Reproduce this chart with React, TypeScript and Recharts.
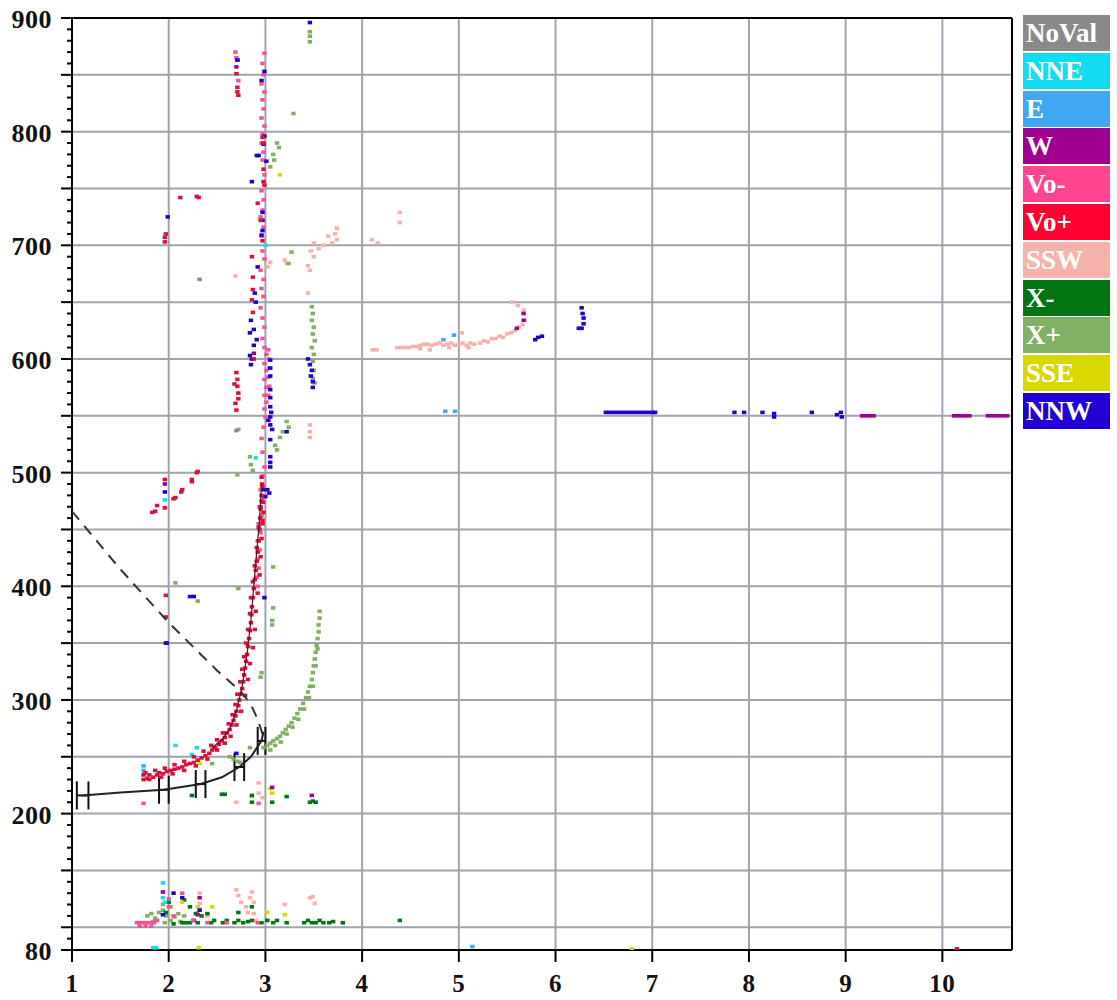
import React from "react";
import { ScatterChart, Scatter, XAxis, YAxis, CartesianGrid, ErrorBar, ReferenceLine } from "recharts";

type Pt = [number, number];

const X_TICKS = [1, 2, 3, 4, 5, 6, 7, 8, 9, 10];
const X_GRID = [2, 3, 4, 5, 6, 7, 8, 9, 10];
const Y_LABELS = [80, 200, 300, 400, 500, 600, 700, 800, 900];
const Y_GRID = [100, 150, 200, 250, 300, 350, 400, 450, 500, 550, 600, 650, 700, 750, 800, 850];
const Y_MINOR = Array.from({ length: 83 }, (_, i) => 80 + i * 10);

const LEGEND_NAMES = ["NoVal", "NNE", "E", "W", "Vo-", "Vo+", "SSW", "X-", "X+", "SSE", "NNW"];
const LEGEND_COLORS = ["#8a8a8a", "#12dcf2", "#40a8f2", "#a0008f", "#ff4590", "#ff0030", "#f4b2aa", "#007512", "#80b063", "#d8d800", "#2000d4"];

const noVal: Pt[] = [[2.32, 670], [2.7, 537]];

const nne: Pt[] = [
  [1.84, 82], [1.87, 82], [3.0, 700], [2.9, 513], [1.96, 476], [2.07, 260], [2.29, 258], [2.24, 252],
  [1.94, 139], [1.94, 126], [1.96, 122],
];

const eSeries: Pt[] = [
  [4.86, 554], [4.96, 554], [4.84, 617], [4.95, 621], [5.14, 83], [1.74, 238], [1.74, 242], [1.75, 236],
];

const wSeries: Pt[] = [
  [2.7, 857], [5.67, 640], [5.67, 634], [5.6, 627],
  [9.17, 550], [9.21, 550], [9.25, 550], [9.29, 550],
  [10.12, 550], [10.16, 550], [10.2, 550], [10.24, 550], [10.28, 550],
  [10.47, 550], [10.51, 550], [10.55, 550], [10.59, 550], [10.63, 550], [10.67, 550],
  [1.94, 131], [2.32, 126], [3.07, 223], [3.48, 216], [2.3, 111], [2.88, 605], [1.96, 490], [2.71, 863],
];

const voMinus: Pt[] = [
  [2.99, 869], [2.97, 860], [2.98, 850], [2.96, 842], [2.99, 835], [2.97, 828], [2.98, 820], [2.96, 812],
  [2.99, 805], [2.97, 798], [2.96, 790], [2.98, 782], [2.97, 775], [2.99, 762], [2.96, 748], [2.98, 740],
  [2.97, 731], [2.95, 725], [2.98, 716], [2.96, 708], [2.97, 695], [2.99, 688], [2.95, 678], [2.98, 670],
  [2.96, 662], [2.98, 655], [2.95, 645], [2.97, 636], [2.99, 628], [2.97, 618], [2.99, 610], [3.01, 604],
  [2.99, 596], [3.01, 590], [2.99, 582], [3.01, 575], [2.99, 568], [3.01, 562], [2.99, 556], [3.0, 549],
  [2.98, 540], [2.96, 530], [2.97, 518], [2.99, 505], [2.97, 497],
  [3.03, 608], [3.04, 600], [3.04, 592], [3.03, 584], [3.04, 576], [3.03, 568],
  [2.95, 485], [2.97, 478], [2.94, 470], [2.96, 462], [2.93, 455], [2.95, 447], [2.92, 440], [2.94, 432],
  [2.92, 424], [2.93, 416], [2.91, 408], [2.92, 400],
  [2.69, 870], [2.7, 865], [2.72, 845],
  [1.74, 209], [1.67, 104], [1.7, 104], [1.73, 104], [1.76, 104], [1.79, 104], [1.82, 104], [1.85, 104],
  [1.88, 106], [1.7, 101], [1.76, 101], [1.82, 101], [2.14, 130], [2.0, 125], [2.05, 110], [2.25, 106],
  [2.4, 104], [2.6, 104], [2.92, 104], [2.93, 209], [2.0, 118],
];

const voPlus: Pt[] = [
  [1.74, 230], [1.74, 234], [1.78, 231], [1.8, 234], [1.84, 232], [1.88, 234], [1.9, 236], [1.94, 235],
  [1.98, 237], [2.02, 238], [2.06, 239], [2.1, 240], [2.14, 241], [2.18, 243], [2.22, 244], [2.26, 245],
  [2.3, 247], [2.34, 249], [2.38, 251], [2.42, 253], [2.45, 256], [2.48, 258], [2.52, 261], [2.55, 264],
  [2.58, 267], [2.6, 271], [2.63, 274], [2.65, 278], [2.67, 282], [2.69, 286], [2.7, 290], [2.72, 295],
  [2.73, 300], [2.74, 305], [2.76, 310], [2.77, 316], [2.78, 322], [2.79, 328], [2.8, 334], [2.81, 340],
  [2.82, 347], [2.83, 354], [2.84, 361], [2.85, 368], [2.855, 375], [2.86, 382], [2.87, 390], [2.88, 398],
  [2.89, 406], [2.9, 414], [2.91, 422], [2.92, 430], [2.93, 440], [2.94, 450], [2.945, 460], [2.95, 470],
  [2.96, 480], [2.965, 490],
  [1.76, 236], [1.86, 238], [1.96, 240], [2.06, 243], [2.16, 246], [2.26, 250], [2.36, 255], [2.44, 260],
  [2.5, 265], [2.56, 271], [2.62, 279], [2.66, 287], [2.69, 296], [2.71, 305], [2.74, 316], [2.76, 327],
  [2.78, 338], [2.8, 350], [2.82, 362], [2.84, 376], [2.85, 390], [2.87, 404], [2.89, 418], [2.91, 434],
  [2.93, 452], [2.95, 468],
  [1.8, 230], [1.92, 232], [2.04, 235], [2.16, 238], [2.28, 242], [2.4, 248], [2.5, 256], [2.58, 262],
  [2.64, 268], [2.7, 278], [2.75, 290], [2.79, 304], [2.82, 318], [2.84, 332], [2.87, 346], [2.89, 362],
  [2.9, 378], [2.92, 394], [2.94, 410], [2.95, 426], [2.96, 442], [2.97, 458], [2.975, 474],
  [1.83, 465], [1.86, 466], [1.88, 471], [1.96, 469], [1.96, 494], [2.05, 477], [2.07, 478], [2.13, 483],
  [2.14, 485], [2.24, 492], [2.24, 494], [2.29, 500], [2.3, 501], [1.97, 392], [1.97, 373],
  [1.96, 703], [1.96, 707], [1.97, 710], [2.12, 742], [2.29, 743], [2.31, 742],
  [2.7, 851], [2.71, 839], [2.71, 835], [2.72, 832],
  [2.7, 588], [2.71, 582], [2.71, 576], [2.72, 570], [2.72, 565], [2.68, 578], [2.69, 561], [2.7, 555],
  [2.97, 795], [2.98, 790], [2.98, 767], [2.99, 753], [2.98, 756], [2.92, 737], [2.95, 722], [2.97, 704],
  [2.86, 690], [2.87, 672], [2.87, 661], [2.86, 652], [2.87, 641], [2.88, 600],
  [2.96, 496], [2.97, 488], [2.96, 475], [2.98, 465], [2.97, 455], [10.15, 81],
];

const ssw: Pt[] = [
  [4.11, 608], [4.15, 608], [4.36, 610], [4.4, 610], [4.44, 610], [4.48, 610], [4.52, 611], [4.56, 611],
  [4.6, 612], [4.64, 613], [4.68, 613], [4.72, 612], [4.76, 613], [4.8, 614], [4.84, 612], [4.88, 613],
  [4.92, 614], [4.96, 612], [5.0, 613], [5.04, 614], [5.08, 612], [5.12, 614], [5.16, 613], [5.22, 614],
  [5.26, 616], [5.3, 615], [5.34, 618], [5.38, 618], [5.42, 620], [5.46, 619], [5.5, 622], [5.54, 623],
  [5.58, 625], [5.62, 628], [5.66, 630], [5.68, 634], [5.67, 643], [5.61, 647], [5.55, 650], [5.03, 623],
  [4.6, 609], [4.7, 608], [4.9, 610], [5.1, 610],
  [3.74, 715], [3.72, 710], [3.69, 702], [3.74, 705], [3.65, 708], [3.6, 700], [3.55, 697], [3.5, 702],
  [3.47, 695], [3.5, 690], [3.44, 682], [3.46, 678], [3.22, 684], [3.2, 687], [3.02, 681], [3.05, 685],
  [3.44, 658], [4.1, 705], [4.16, 702], [4.39, 729], [4.39, 720], [2.69, 673], [3.46, 542], [3.46, 536],
  [3.46, 531],
  [2.7, 133], [2.72, 128], [2.75, 122], [2.8, 118], [2.86, 131], [2.84, 126], [2.88, 122], [2.82, 113],
  [3.2, 120], [3.46, 126], [3.51, 121], [3.49, 127], [2.32, 130], [2.32, 121], [2.32, 116], [2.3, 113],
  [2.4, 110], [2.9, 106], [2.88, 112],
  [2.93, 227], [2.93, 218], [2.7, 210], [2.86, 215], [2.97, 214],
];

const xMinus: Pt[] = [
  [2.0, 122], [2.16, 124], [2.22, 118], [2.28, 112], [2.14, 104], [2.18, 104], [2.22, 104], [2.26, 106],
  [2.3, 104], [2.44, 104], [2.47, 106], [2.56, 104], [2.6, 106], [2.68, 104], [2.72, 106], [2.77, 104],
  [2.82, 105], [2.86, 106], [2.96, 104], [3.02, 106], [3.08, 104], [3.12, 106], [3.22, 104], [3.4, 104],
  [3.44, 106], [3.48, 104], [3.52, 104], [3.56, 106], [3.6, 104], [3.66, 104], [3.7, 105], [3.8, 104],
  [4.39, 106], [2.86, 118], [2.72, 113], [2.4, 112], [2.34, 110], [1.97, 113], [2.05, 103],
  [2.24, 216], [2.55, 217], [2.58, 217], [2.86, 216], [2.86, 210], [3.07, 210], [3.22, 215], [3.46, 210],
  [3.49, 211], [3.52, 210],
];

const xPlus: Pt[] = [
  [2.98, 258], [3.02, 260], [3.05, 262], [3.08, 264], [3.12, 266], [3.15, 268], [3.18, 271], [3.21, 274],
  [3.24, 277], [3.27, 280], [3.3, 284], [3.33, 288], [3.36, 292], [3.39, 297], [3.42, 302], [3.44, 307],
  [3.46, 312], [3.48, 318], [3.49, 324], [3.5, 330], [3.51, 336], [3.52, 342], [3.53, 348], [3.54, 354],
  [3.55, 360], [3.55, 366], [3.56, 372], [3.56, 378], [3.05, 256], [3.1, 260], [3.16, 263], [3.22, 270],
  [3.28, 276], [3.34, 283], [3.4, 292], [3.45, 302], [3.49, 312], [3.52, 330], [3.54, 345],
  [3.48, 646], [3.49, 640], [3.48, 634], [3.5, 628], [3.49, 622], [3.51, 616], [3.48, 610], [3.5, 604],
  [3.49, 598], [3.5, 590], [3.49, 583], [3.51, 579],
  [3.46, 888], [3.46, 884], [3.46, 879], [3.29, 816], [3.12, 790], [3.14, 786], [3.08, 780], [3.09, 775],
  [3.05, 769], [3.27, 694], [3.24, 684],
  [3.22, 545], [3.24, 540], [3.18, 536], [3.15, 531], [3.1, 524], [3.12, 520], [2.84, 514], [2.85, 507],
  [2.87, 502], [2.72, 538], [2.71, 498], [2.07, 403], [2.3, 387], [2.72, 398], [3.08, 381], [3.07, 370],
  [3.07, 366], [3.08, 417], [2.95, 320], [2.96, 324],
  [2.63, 250], [2.67, 248], [2.71, 246], [2.74, 245], [2.45, 244], [2.84, 258],
  [1.78, 110], [1.82, 112], [1.86, 108], [1.9, 113], [1.94, 115], [1.98, 110], [2.02, 106], [2.06, 109],
  [2.1, 112], [2.02, 118], [2.12, 105], [1.84, 105], [1.96, 104], [2.16, 110], [1.94, 120],
];

const sse: Pt[] = [
  [6.79, 81], [2.31, 82], [3.07, 218], [3.05, 222], [3.15, 762], [2.45, 118], [2.3, 118], [2.14, 122],
  [3.2, 111], [3.02, 113], [2.32, 244],
];

const nnw: Pt[] = [
  [3.46, 896], [2.71, 863], [2.99, 853], [2.96, 845], [2.99, 796], [2.98, 789], [3.01, 774], [2.93, 779],
  [2.91, 779], [2.86, 756], [2.97, 729], [2.97, 722], [2.97, 713], [2.96, 709], [2.92, 681], [2.89, 658],
  [2.9, 650], [2.85, 634], [2.88, 626], [2.84, 623], [2.91, 617], [2.88, 612], [2.86, 600], [2.84, 603],
  [2.85, 595], [3.05, 599], [3.05, 592], [3.05, 585], [3.05, 573], [3.05, 566], [3.05, 558], [3.06, 553],
  [3.05, 549], [3.03, 546], [3.05, 542], [3.07, 538], [3.22, 536], [3.05, 529], [3.05, 514], [3.05, 509],
  [3.05, 505], [2.98, 485], [3.02, 485], [3.04, 482], [3.0, 479], [1.96, 483], [1.98, 350], [1.97, 350],
  [2.22, 391], [2.26, 391], [2.99, 390], [3.44, 600], [3.46, 595], [3.48, 590], [3.47, 585], [3.49, 580],
  [3.49, 575], [1.99, 725], [2.7, 253],
  [5.79, 617], [5.82, 619], [5.86, 620], [6.27, 645], [6.28, 640], [6.29, 636], [6.29, 631], [6.27, 627],
  [6.24, 627],
  [6.52, 553], [6.56, 553], [6.6, 553], [6.64, 553], [6.68, 553], [6.72, 553], [6.76, 553], [6.8, 553],
  [6.84, 553], [6.88, 553], [6.92, 553], [6.96, 553], [7.0, 553], [7.03, 553],
  [7.85, 553], [7.95, 553], [8.14, 553], [8.26, 552], [8.26, 549], [8.65, 553], [8.91, 551], [8.95, 553],
  [8.96, 549],
  [2.05, 130], [2.14, 126], [1.94, 111], [2.32, 115],
];

const dashedLine: Pt[] = [[1.0, 466], [1.5, 415], [2.0, 368], [2.5, 326], [2.75, 307], [2.85, 296], [2.92, 283], [2.97, 270]];
const solidLine: Pt[] = [[1.11, 216], [1.5, 218.5], [1.95, 221], [2.33, 226], [2.55, 232], [2.73, 241], [2.85, 250], [2.96, 264], [2.98, 272]];
const thinLine: Pt[] = [[2.45, 258], [2.55, 265], [2.63, 274], [2.7, 290], [2.76, 312], [2.81, 340], [2.85, 370], [2.88, 400], [2.91, 430], [2.94, 460], [2.96, 490]];
const errX = [1.11, 1.95, 2.33, 2.73, 2.96];
const errY = [216, 221, 226, 241, 264];
const errW = [0.06, 0.05, 0.05, 0.05, 0.04];

const toData = (pts: Pt[]) => pts.map(([x, y]) => ({ x, y }));
const errData = errX.map((x, i) => ({ x, y: errY[i], e: errW[i] }));

const FONT = "'Liberation Serif', 'Times New Roman', serif";

const dot = (color: string) => (p: any) => (
  <rect x={p.cx - 2.2} y={p.cy - 1.8} width={4.4} height={3.6} fill={color} />
);
const none = () => <g />;

const layers: { data: Pt[]; color: string }[] = [
  { data: ssw, color: "#f4b2aa" },
  { data: xPlus, color: "#80b063" },
  { data: xMinus, color: "#007512" },
  { data: sse, color: "#d8d800" },
  { data: eSeries, color: "#40a8f2" },
  { data: nne, color: "#12dcf2" },
  { data: noVal, color: "#8a8a8a" },
  { data: wSeries, color: "#a0008f" },
  { data: voMinus, color: "#f5509a" },
  { data: nnw, color: "#2200cc" },
  { data: voPlus, color: "#d8103a" },
];

const YTick = (p: any) => {
  const v = p.payload.value;
  const major = v % 50 === 0 || v === 80;
  const labeled = Y_LABELS.includes(v);
  return (
    <g>
      <line x1={p.x - (major ? 11 : 5)} x2={p.x} y1={p.y} y2={p.y} stroke="#000" strokeWidth={2} />
      {labeled && (
        <text x={p.x - 20} y={p.y + 10} textAnchor="end" fontFamily={FONT} fontWeight="bold" fontSize={26} letterSpacing={0.5} fill="#111">
          {v}
        </text>
      )}
    </g>
  );
};

const XTick = (p: any) => (
  <g>
    <line x1={p.x} x2={p.x} y1={p.y} y2={p.y + 12} stroke="#000" strokeWidth={2} />
    <text x={p.x} y={p.y + 42} textAnchor="middle" fontFamily={FONT} fontWeight="bold" fontSize={25} letterSpacing={0.5} fill="#111">
      {p.payload.value}
    </text>
  </g>
);

export default function App() {
  return (
    <div style={{ position: "absolute", left: 0, top: 0, width: 1117, height: 1000, background: "#fff" }}>
      <ScatterChart width={1117} height={1000} margin={{ top: 18, right: 105, bottom: 0, left: 0 }}>
        <CartesianGrid horizontalValues={Y_GRID} verticalValues={X_GRID} stroke="#9ea3ad" strokeWidth={2} />
        <XAxis
          type="number"
          dataKey="x"
          domain={[1, 10.72]}
          ticks={X_TICKS}
          allowDataOverflow
          height={50}
          tickSize={0}
          tickMargin={0}
          axisLine={{ stroke: "#000", strokeWidth: 2 }}
          tick={<XTick />}
          interval={0}
        />
        <YAxis
          type="number"
          dataKey="y"
          domain={[80, 900]}
          ticks={Y_MINOR}
          allowDataOverflow
          width={72}
          tickSize={0}
          tickMargin={0}
          axisLine={{ stroke: "#000", strokeWidth: 2 }}
          tick={<YTick />}
          interval={0}
        />
        <ReferenceLine y={900} stroke="#000" strokeWidth={2} />
        <ReferenceLine x={10.72} stroke="#000" strokeWidth={2} />
        {layers.map((l, i) => (
          <Scatter key={i} data={toData(l.data)} fill={l.color} shape={dot(l.color)} isAnimationActive={false} />
        ))}
        <Scatter data={toData(thinLine)} line={{ stroke: "#5a1020", strokeWidth: 1.2 }} lineType="joint" shape={none} isAnimationActive={false} />
        <Scatter data={toData(dashedLine)} line={{ stroke: "#333", strokeWidth: 2, strokeDasharray: "11 8" }} lineType="joint" shape={none} isAnimationActive={false} />
        <Scatter data={toData(solidLine)} line={{ stroke: "#222", strokeWidth: 2 }} lineType="joint" shape={none} isAnimationActive={false} />
        <Scatter data={errData} shape={none} isAnimationActive={false}>
          <ErrorBar dataKey="e" direction="x" width={14} stroke="#111" strokeWidth={2} />
        </Scatter>
      </ScatterChart>
      {LEGEND_NAMES.map((name, i) => (
        <div
          key={name}
          style={{
            position: "absolute",
            left: 1023,
            top: 15 + i * 37.8,
            width: 87,
            height: 36,
            background: LEGEND_COLORS[i],
            color: "#fff",
            fontFamily: FONT,
            fontWeight: "bold",
            fontSize: 27,
            lineHeight: "36px",
            paddingLeft: 3,
            boxSizing: "border-box",
            overflow: "hidden",
            whiteSpace: "nowrap",
          }}
        >
          {name}
        </div>
      ))}
    </div>
  );
}
